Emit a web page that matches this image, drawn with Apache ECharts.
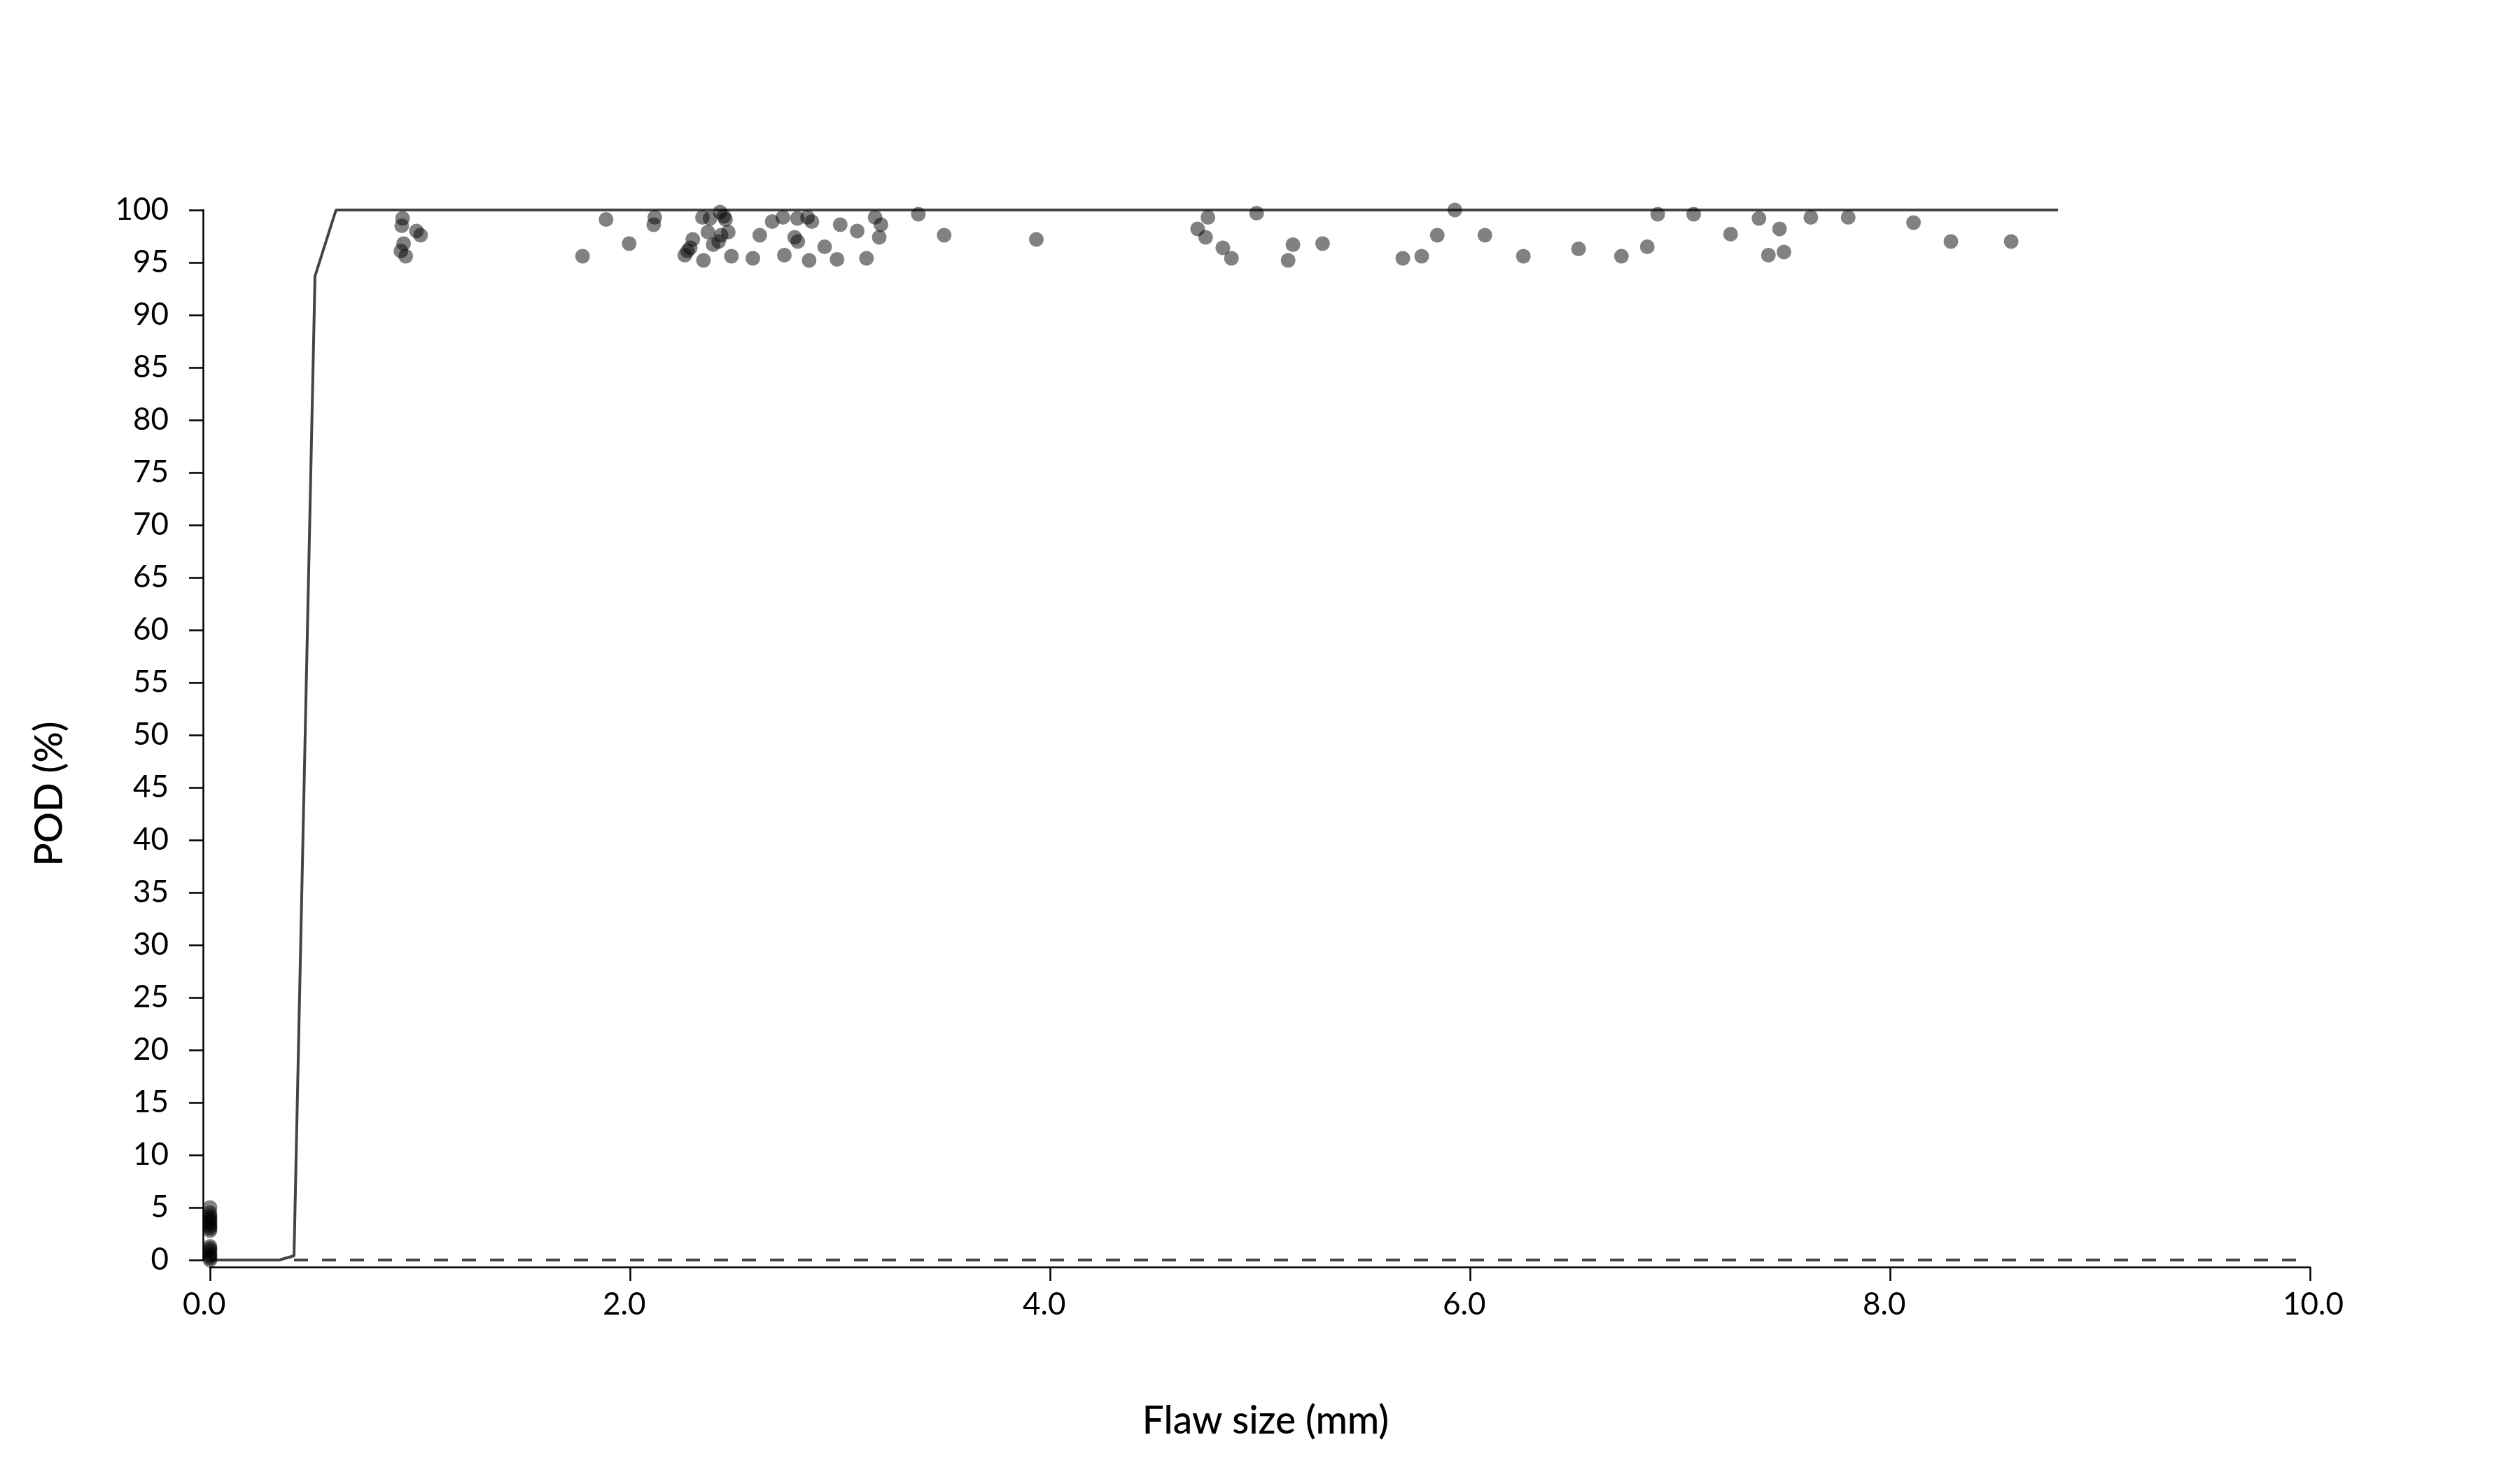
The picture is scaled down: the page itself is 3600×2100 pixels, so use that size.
<!DOCTYPE html>
<html>
<head>
<meta charset="utf-8">
<script src="https://cdn.jsdelivr.net/npm/echarts@6/dist/echarts.min.js"></script>
<style>html,body{margin:0;padding:0;background:#fff}#c{width:3600px;height:2100px}</style>
</head>
<body>
<div id="c"></div>
<script>
// ---- data ----
const xTitle = 'Flaw size (mm)';
const yTitle = 'POD (%)';
const xMin = 0, xMax = 10, xStep = 2;
const yMin = 0, yMax = 100, yStep = 5;

// POD curve
const curveX = [0, 0.33, 0.40, 0.50, 0.60, 8.80];
const curveY = [0, 0, 0.4, 93.7, 100, 100];

// lower bound (dashed)
const boundX = [0.40, 10];
const boundY = [0, 0];

// hit/miss data points
const flawSize = [
  0, 0, 0, 0, 0, 0, 0, 0, 0, 0, 0, 0, 0, 0, 0, 0, 0,
  0.917, 0.913, 0.983, 1.003, 0.922, 0.909, 0.932,
  1.774, 1.886, 1.996, 2.118, 2.113,
  2.345, 2.381, 2.429, 2.447, 2.455, 2.371, 2.468, 2.434, 2.299, 2.422, 2.396, 2.287, 2.274, 2.261, 2.350, 2.483,
  2.585, 2.618, 2.677, 2.728, 2.797, 2.845, 2.866, 2.784, 2.799, 2.735, 2.853, 2.927, 2.986,
  3.001, 3.082, 3.126, 3.167, 3.195, 3.187, 3.373, 3.496, 3.935,
  4.752, 4.703, 4.741, 4.823, 4.864, 4.984, 5.157, 5.134, 5.298,
  5.680, 5.770, 5.844, 5.928, 6.071, 6.254, 6.517, 6.721, 6.844, 6.894,
  7.065, 7.241, 7.376, 7.474, 7.421, 7.495, 7.623, 7.801, 8.112, 8.290, 8.577
];
const podValue = [
  5.0, 4.5, 4.2, 4.0, 3.8, 3.6, 3.4, 3.2, 3.0, 2.8, 1.3, 1.1, 0.9, 0.6, 0.4, 0.2, 0.0,
  99.2, 98.5, 98.0, 97.6, 96.8, 96.1, 95.6,
  95.6, 99.1, 96.8, 99.3, 98.6,
  99.3, 99.2, 99.8, 99.4, 99.1, 97.9, 97.9, 97.6, 97.2, 97.0, 96.7, 96.4, 96.1, 95.7, 95.2, 95.6,
  95.4, 97.6, 98.9, 99.3, 99.2, 99.3, 98.9, 97.4, 97.0, 95.7, 95.2, 96.5, 95.3,
  98.6, 98.0, 95.4, 99.3, 98.6, 97.4, 99.6, 97.6, 97.2,
  99.3, 98.2, 97.4, 96.4, 95.4, 99.7, 96.7, 95.2, 96.8,
  95.4, 95.6, 97.6, 100.0, 97.6, 95.6, 96.3, 95.6, 96.5, 99.6,
  99.6, 97.7, 99.2, 98.2, 95.7, 96.0, 99.3, 99.3, 98.8, 97.0, 97.0
];

// ---- chart ----
const FONT = 'Lato, "Noto Sans", sans-serif';
const zip = (a, b) => a.map((v, i) => [v, b[i]]);

const chart = echarts.init(document.getElementById('c'), null, {renderer: 'canvas'});
chart.setOption({
  animation: false,
  backgroundColor: '#ffffff',
  grid: {left: 300, right: 300, top: 300, bottom: 300, containLabel: false},
  xAxis: {
    type: 'value', min: xMin, max: xMax, interval: xStep, offset: 10,
    axisLine: {show: true, onZero: false, lineStyle: {color: '#000', width: 2.5}},
    axisTick: {show: true, inside: false, length: 20, lineStyle: {color: '#000', width: 2.5}},
    splitLine: {show: false},
    axisLabel: {
      margin: 32, color: '#000', fontFamily: FONT, fontSize: 44, fontWeight: 'normal',
      formatter: v => '{a|' + v.toFixed(1) + '}',
      rich: {a: {width: 78, align: 'left', fontFamily: FONT, fontSize: 44, fontWeight: 'normal', color: '#000'}}
    }
  },
  yAxis: {
    type: 'value', min: yMin, max: yMax, interval: yStep, offset: 10,
    axisLine: {show: true, onZero: false, lineStyle: {color: '#000', width: 2.5}},
    axisTick: {show: true, inside: false, length: 20, lineStyle: {color: '#000', width: 2.5}},
    splitLine: {show: false},
    axisLabel: {margin: 49, color: '#000', fontFamily: FONT, fontSize: 44, fontWeight: 'normal'}
  },
  graphic: [
    {type: 'text', x: 71, y: 1134, rotation: Math.PI / 2,
     style: {text: yTitle, fill: '#000', font: '500 55px ' + FONT, align: 'center', verticalAlign: 'middle'}},
    {type: 'text', x: 1808, y: 2030,
     style: {text: xTitle, fill: '#000', font: '500 55px ' + FONT, align: 'center', verticalAlign: 'middle'}}
  ],
  series: [
    {
      type: 'line', data: zip(boundX, boundY), showSymbol: false, symbol: 'none', clip: false,
      lineStyle: {color: '#444', width: 4, type: [20, 20]}, z: 2
    },
    {
      type: 'line', data: zip(curveX, curveY), showSymbol: false, symbol: 'none', clip: false,
      lineStyle: {color: '#444', width: 4}, z: 3
    },
    {
      type: 'scatter', data: zip(flawSize, podValue), symbol: 'circle', symbolSize: 21, clip: false,
      itemStyle: {color: 'rgba(0,0,0,0.62)'}, z: 4
    }
  ]
});
</script>
</body>
</html>
